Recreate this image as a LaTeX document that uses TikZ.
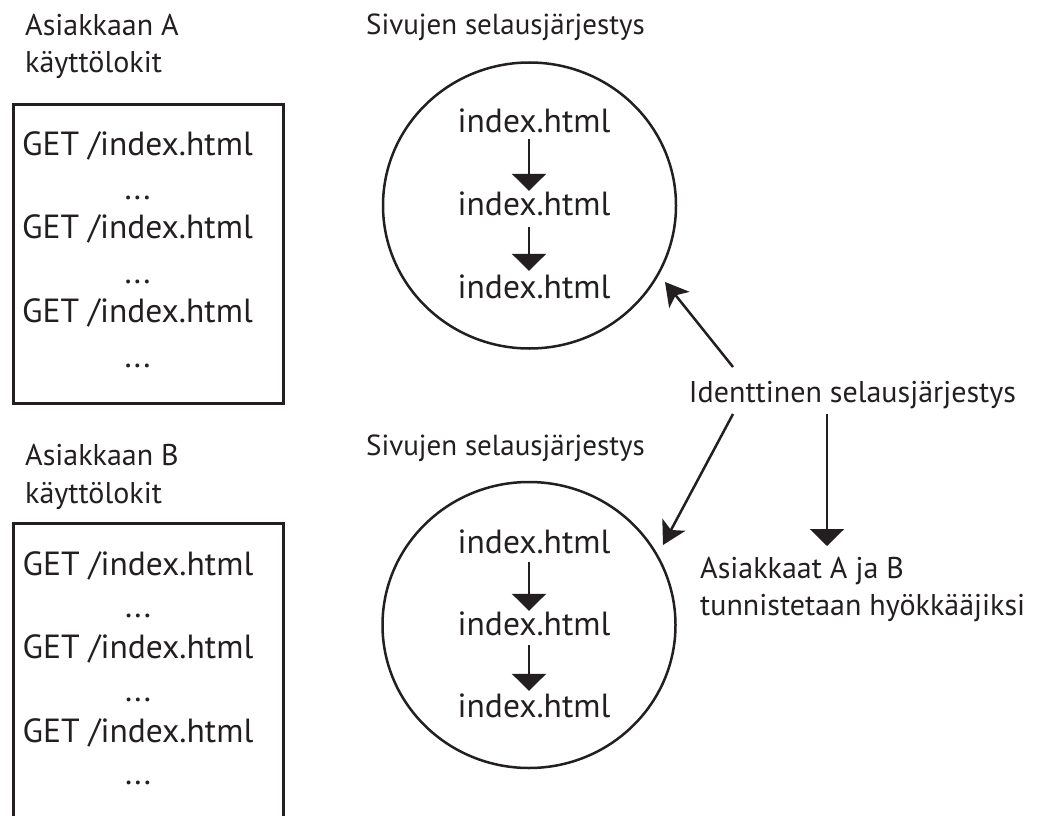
\documentclass[tikz,border=0pt]{standalone}
\usepackage{fontspec}
\setmainfont{PT Sans}
\usetikzlibrary{arrows.meta,shapes.geometric}
\definecolor{ink}{HTML}{231F20}
\begin{document}
\begin{tikzpicture}[x=1pt,y=-1pt,
  txt/.style={font=\fontsize{30}{36}\selectfont, text=ink, inner sep=0pt, text height=22pt, text depth=7pt},
  big/.style={font=\fontsize{33.5}{40}\selectfont},
  lbl/.style={txt, anchor=base},
  lblw/.style={txt, anchor=base west},
  logbox/.style={draw=ink, line width=2.5pt, minimum width=270pt, anchor=north west, inner sep=0pt},
  seqcirc/.style={draw=ink, line width=2.5pt, ellipse, minimum width=293pt, minimum height=286pt, inner sep=0pt},
  tri/.style={draw=ink, line width=2.5pt, -{Triangle[width=34pt,length=17pt]}, fill=ink},
  stl/.style={draw=ink, line width=2.5pt, -{Stealth[width=26pt,length=23pt,inset=6pt]}, fill=ink}]
\clip (0,0) rectangle (1039,816);
\fill[white] (0,0) rectangle (1039,816);

% Client A
\node[lblw] (tA1) at (25,36) {Asiakkaan A};
\node[lblw] (tA2) at (25,73) {käyttölokit};
\node[logbox, minimum height=299pt] (boxA) at (12,103) {};
\node[lbl, big] (a1) at (137.5,155) {GET /index.html};
\node[lbl, big] (a2) at (137.5,199) {...};
\node[lbl, big] (a3) at (137.5,238) {GET /index.html};
\node[lbl, big] (a4) at (137.5,283) {...};
\node[lbl, big] (a5) at (137.5,322) {GET /index.html};
\node[lbl, big] (a6) at (137.5,367) {...};

% Client B
\node[lblw] (tB1) at (25,465) {Asiakkaan B};
\node[lblw] (tB2) at (25,503) {käyttölokit};
\node[logbox, minimum height=320pt] (boxB) at (12,522) {};
\node[lbl, big] (b1) at (138,575) {GET /index.html};
\node[lbl, big] (b2) at (138,617) {...};
\node[lbl, big] (b3) at (138,658) {GET /index.html};
\node[lbl, big] (b4) at (138,701) {...};
\node[lbl, big] (b5) at (138,742) {GET /index.html};
\node[lbl, big] (b6) at (138,784) {...};

% Sequence 1
\node[lbl, font=\fontsize{29}{35}\selectfont] (s1) at (505.5,35) {Sivujen selausjärjestys};
\node[seqcirc] (c1) at (529.5,205.5) {};
\node[lbl, big] (p11) at (534,132) {index.html};
\node[lbl, big] (p12) at (534,215) {index.html};
\node[lbl, big] (p13) at (534,298) {index.html};
\draw[tri] (p11.south -| 529,0) -- ([yshift=2pt]p12.north -| 529,0);
\draw[tri] ([yshift=-5pt]p12.south -| 529,0) -- ([yshift=5pt]p13.north -| 529,0);

% Sequence 2
\node[lbl, font=\fontsize{29}{35}\selectfont] (s2) at (505.5,455) {Sivujen selausjärjestys};
\node[seqcirc] (c2) at (529,625) {};
\node[lbl, big] (p21) at (534,553) {index.html};
\node[lbl, big] (p22) at (534,635) {index.html};
\node[lbl, big] (p23) at (534,717) {index.html};
\draw[tri] ([yshift=-2pt]p21.south -| 529,0) -- ([yshift=2pt]p22.north -| 529,0);
\draw[tri] ([yshift=-3pt]p22.south -| 529,0) -- ([yshift=4pt]p23.north -| 529,0);

% Right side
\node[lbl] (id) at (852.5,402) {Identtinen selausjärjestys};
\node[lblw] (r1) at (700,578) {Asiakkaat A ja B};
\node[lblw] (r2) at (700,615) {tunnistetaan hyökkääjiksi};
\coordinate (u1) at (733,367);
\coordinate (u1t) at (665,282);
\coordinate (u2) at (733,414);
\coordinate (u2t) at (663,545);
\coordinate (u3) at (827,414);
\coordinate (u3t) at (827,546);
\draw[stl] (u1) -- (u1t);
\draw[stl] (u2) -- (u2t);
\draw[tri] (u3) -- (u3t);
\end{tikzpicture}
\end{document}
